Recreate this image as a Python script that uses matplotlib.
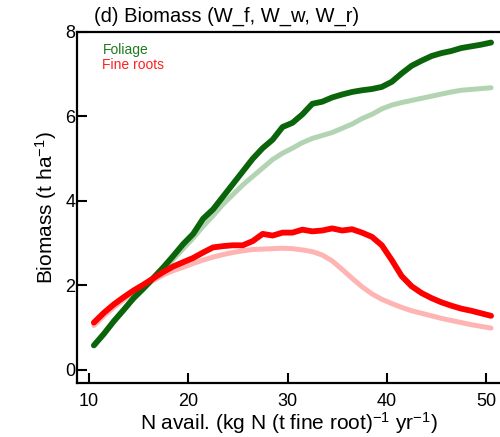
import matplotlib
matplotlib.use("Agg")
import matplotlib.pyplot as plt

# N availability (kg N (t fine root)^-1 yr^-1)
n_avail = [10.5 + i for i in range(41)]

foliage_dark = [0.58, 0.85, 1.15, 1.42, 1.70, 1.93, 2.18, 2.43, 2.70, 2.98,
                3.22, 3.58, 3.80, 4.10, 4.40, 4.70, 5.00, 5.25, 5.45, 5.75,
                5.85, 6.05, 6.30, 6.35, 6.45, 6.52, 6.58, 6.62, 6.65, 6.70,
                6.82, 7.02, 7.20, 7.32, 7.43, 7.50, 7.55, 7.62, 7.66, 7.70, 7.75]
foliage_light = [0.58, 0.86, 1.15, 1.42, 1.68, 1.92, 2.15, 2.38, 2.62, 2.87,
                 3.12, 3.40, 3.65, 3.92, 4.15, 4.38, 4.58, 4.78, 4.98, 5.13,
                 5.25, 5.38, 5.48, 5.55, 5.62, 5.72, 5.82, 5.95, 6.05, 6.18,
                 6.27, 6.33, 6.38, 6.43, 6.48, 6.53, 6.58, 6.62, 6.64, 6.66, 6.68]
roots_dark = [1.12, 1.35, 1.55, 1.72, 1.88, 2.02, 2.17, 2.32, 2.45, 2.55,
              2.65, 2.78, 2.90, 2.93, 2.95, 2.95, 3.05, 3.22, 3.18, 3.25,
              3.25, 3.32, 3.28, 3.30, 3.35, 3.30, 3.33, 3.25, 3.15, 2.95,
              2.60, 2.22, 1.98, 1.82, 1.70, 1.60, 1.52, 1.45, 1.40, 1.34, 1.28]
roots_light = [1.05, 1.28, 1.48, 1.66, 1.83, 1.98, 2.12, 2.25, 2.35, 2.43,
               2.52, 2.60, 2.67, 2.73, 2.78, 2.82, 2.85, 2.86, 2.87, 2.88,
               2.87, 2.84, 2.80, 2.72, 2.58, 2.38, 2.17, 1.97, 1.80, 1.67,
               1.57, 1.48, 1.40, 1.34, 1.28, 1.22, 1.17, 1.12, 1.07, 1.03, 0.99]

plt.rcParams["font.family"] = ["Liberation Sans", "DejaVu Sans"]
plt.rcParams["mathtext.fontset"] = "custom"
plt.rcParams["mathtext.rm"] = "Liberation Sans"
plt.rcParams["mathtext.it"] = "Liberation Sans"

fig = plt.figure(figsize=(5.0, 4.37), dpi=100)
ax = fig.add_axes([0.154, 0.1236, 0.846, 0.8032])

ax.plot(n_avail, foliage_light, color="#b3d4b3", lw=3.6, solid_capstyle="round")
ax.plot(n_avail, roots_light, color="#ffb4b4", lw=3.6, solid_capstyle="round")
ax.plot(n_avail, foliage_dark, color="#0a640a", lw=4.2, solid_capstyle="round")
ax.plot(n_avail, roots_dark, color="#ff0000", lw=4.2, solid_capstyle="round")

ax.set_xlim(8.8, 51.4)
ax.set_ylim(-0.31, 8.0)
ax.set_xticks([10, 20, 30, 40, 50])
ax.set_yticks([0, 2, 4, 6, 8])
ax.tick_params(direction="in", length=7, width=1.5, labelsize=13)
ax.tick_params(axis="x", pad=7)
ax.tick_params(axis="y", pad=1)
for side in ["left", "bottom", "top"]:
    ax.spines[side].set_linewidth(1.6)
ax.spines["right"].set_visible(False)

ax.set_xlabel(r"N avail. (kg N (t fine root)$^{-1}$ yr$^{-1}$)", fontsize=15, labelpad=0)
ax.set_ylabel(r"Biomass (t ha$^{-1}$)", fontsize=15, labelpad=5)

fig.text(0.188, 0.962, "(d) Biomass (W_f, W_w, W_r)", fontsize=14.5, va="center", ha="left")
ax.text(0.06, 0.95, "Foliage", color="#1f7a1f", fontsize=10, transform=ax.transAxes, va="center")
ax.text(0.06, 0.905, "Fine roots", color="#ff2020", fontsize=10, transform=ax.transAxes, va="center")

fig.savefig("out.png", dpi=100)
